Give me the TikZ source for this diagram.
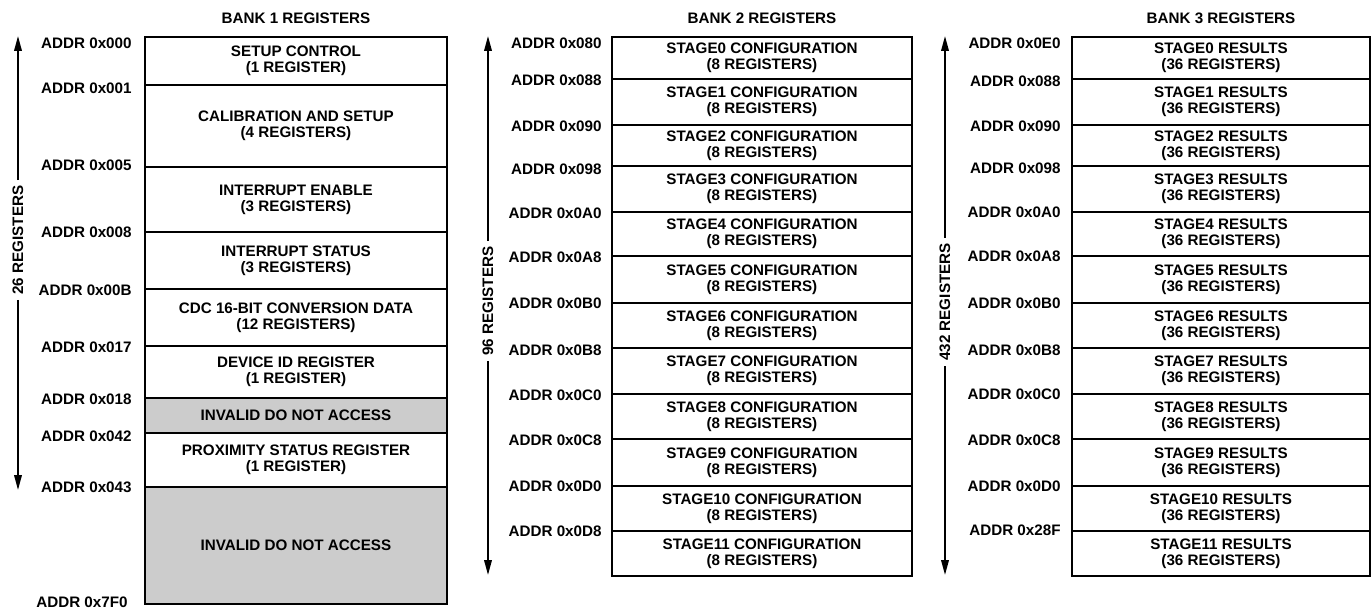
\documentclass[tikz,border=0pt]{standalone}
\usepackage{fontspec}
\setmainfont{Liberation Sans}
\usetikzlibrary{arrows.meta}
\definecolor{invalgray}{HTML}{CCCCCC}
\begin{document}
\begin{tikzpicture}[x=0.5pt,y=-0.5pt,
  every node/.style={font=\bfseries\fontsize{7.6}{8}\selectfont, inner sep=0pt},
  addr/.style={anchor=east},
  sect/.style={align=center},
  banktitle/.style={anchor=center},
  divider/.style={line width=0.9pt},
  frame/.style={line width=1.4pt},
  span/.style={line width=0.85pt},
  tipend/.style={-{Triangle[length=7.5pt,width=3.8pt]}},
  spanlabel/.style={rotate=90, inner sep=2.5pt}
]
\useasboundingbox (0,0) rectangle (1372,610);

% ---------------- BANK 1 ----------------
\node[banktitle] (t1) at (296,18) {BANK 1 REGISTERS};
\fill[invalgray] (145,398) rectangle (447,433);
\fill[invalgray] (145,487) rectangle (447,604);
\foreach \y in {85,167,232,289,346,398,433,487}
  \draw[divider] (145,\y) -- (447,\y);
\draw[frame] (145,37) rectangle (447,604);

\node[sect] (b1s1) at (296,61)    {SETUP CONTROL\\(1 REGISTER)};
\node[sect] (b1s2) at (296,126)   {CALIBRATION AND SETUP\\(4 REGISTERS)};
\node[sect] (b1s3) at (296,199.5) {INTERRUPT ENABLE\\(3 REGISTERS)};
\node[sect] (b1s4) at (296,260.5) {INTERRUPT STATUS\\(3 REGISTERS)};
\node[sect] (b1s5) at (296,317.5) {CDC 16-BIT CONVERSION DATA\\(12 REGISTERS)};
\node[sect] (b1s6) at (296,372)   {DEVICE ID REGISTER\\(1 REGISTER)};
\node[sect] (b1s7) at (296,415.5) {INVALID DO NOT ACCESS};
\node[sect] (b1s8) at (296,460)   {PROXIMITY STATUS REGISTER\\(1 REGISTER)};
\node[sect] (b1s9) at (296,545.5) {INVALID DO NOT ACCESS};

\foreach \y/\t [count=\i] in {43/000,88/001,165/005,232/008,290/00B,347/017,399/018,436/042,487/043}
  \node[addr] (b1a\i) at (132,\y) {ADDR 0x\t};
\node[addr] (b1a10) at (128,602) {ADDR 0x7F0};

\coordinate (b1top) at (18,36);
\coordinate (b1bot) at (18,490);
\node[spanlabel] (b1n) at (18,240) {26 REGISTERS};
\draw[span,tipend] (b1n) -- (b1top);
\draw[span,tipend] (b1n) -- (b1bot);

% ---------------- BANK 2 ----------------
\node[banktitle] (t2) at (762,18) {BANK 2 REGISTERS};
\foreach \y in {79,125,166,212,256,303,348,394,439,486,531}
  \draw[divider] (612,\y) -- (912,\y);
\draw[frame] (612,37) rectangle (912,576);
\foreach \a/\b [count=\i from 0] in {37/79,79/125,125/166,166/212,212/256,256/303,303/348,348/394,394/439,439/486,486/531,531/576}
  \node[sect] (b2s\i) at (762,{(\a+\b)/2}) {STAGE\i{} CONFIGURATION\\(8 REGISTERS)};

\foreach \y/\t [count=\i] in {43/080,80/088,126/090,169/098,213/0A0,257/0A8,303/0B0,350/0B8,395/0C0,440/0C8,486/0D0,531/0D8}
  \node[addr] (b2a\i) at (602,\y) {ADDR 0x\t};

\coordinate (b2top) at (488,36);
\coordinate (b2bot) at (488,575);
\node[spanlabel] (b2n) at (488,301) {96 REGISTERS};
\draw[span,tipend] (b2n) -- (b2top);
\draw[span,tipend] (b2n) -- (b2bot);

% ---------------- BANK 3 ----------------
\node[banktitle] (t3) at (1221,18) {BANK 3 REGISTERS};
\foreach \y in {79,125,166,212,256,303,348,394,439,486,531}
  \draw[divider] (1072,\y) -- (1370,\y);
\draw[frame] (1072,37) rectangle (1370,576);
\foreach \a/\b [count=\i from 0] in {37/79,79/125,125/166,166/212,212/256,256/303,303/348,348/394,394/439,439/486,486/531,531/576}
  \node[sect] (b3s\i) at (1221,{(\a+\b)/2}) {STAGE\i{} RESULTS\\(36 REGISTERS)};

\foreach \y/\t [count=\i] in {43/0E0,81/088,126/090,168/098,212/0A0,256/0A8,303/0B0,350/0B8,394/0C0,440/0C8,486/0D0,530/28F}
  \node[addr] (b3a\i) at (1061,\y) {ADDR 0x\t};

\coordinate (b3top) at (945,36);
\coordinate (b3bot) at (945,575);
\node[spanlabel] (b3n) at (945,302) {432 REGISTERS};
\draw[span,tipend] (b3n) -- (b3top);
\draw[span,tipend] (b3n) -- (b3bot);
\end{tikzpicture}
\end{document}
